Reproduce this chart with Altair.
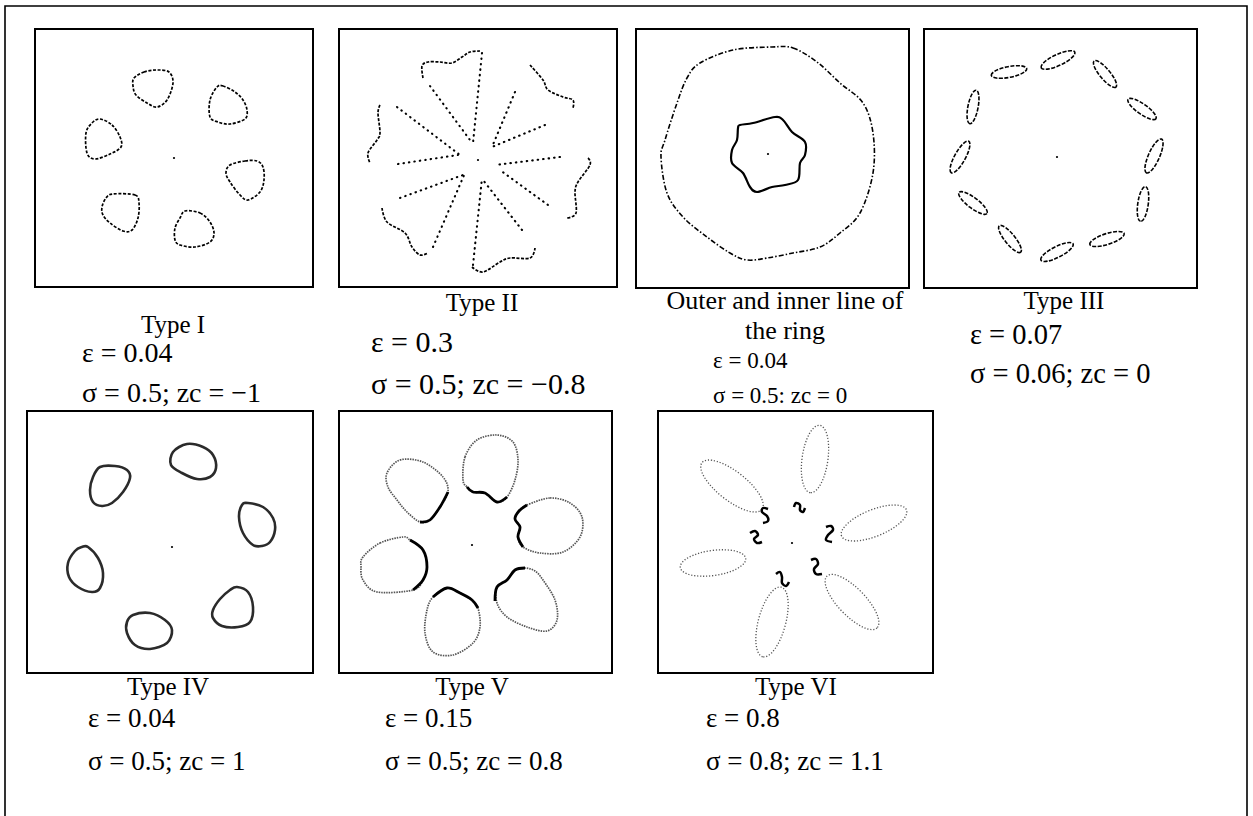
import altair as alt
import pandas as pd

W, H = 1253, 816
FONT = "Liberation Serif"

# ---------------------------------------------------------------- labels
TITLES = ["Type I", "Type II", "Outer and inner line of", "the ring",
          "Type III", "Type IV", "Type V", "Type VI"]
EPS = ["0.04", "0.3", "0.04", "0.07", "0.04", "0.15", "0.8"]
SIGMA = ["0.5", "0.5", "0.5", "0.06", "0.5", "0.5", "0.8"]
SEP = [";", ";", ":", ";", ";", ";", ";"]
ZC = ["\u22121", "\u22120.8", "0", "0", "1", "0.8", "1.1"]

# ---------------------------------------------------------------- panel layout (page pixels)
PANEL_BOX = [(35, 29, 313, 287), (339, 29, 617, 287), (636, 29, 909, 288),
             (924, 29, 1197, 288), (27, 411, 313, 673), (339, 411, 612, 673),
             (658, 411, 933, 673)]
PANEL_ORIGIN = [(174, 158), (478, 158), (772, 158), (1060, 158),
                (172, 547), (472, 545), (792, 543)]
TITLE_POS = [(173, 333), (482, 311), (785, 309), (785, 339), (1064, 309),
             (168, 695), (472, 695), (796, 695)]
TITLE_SIZE = [25, 25, 26, 26, 25, 25, 25, 25]
EQ_X = [82, 371, 713, 970, 88, 385, 706]
EQ_Y_EPS = [362, 352, 368, 344, 727, 727, 727]
EQ_Y_SIG = [402, 394, 403, 383, 770, 770, 770]
EQ_SIZE = [28, 30, 23, 28.5, 27, 27, 27]

# ---------------------------------------------------------------- pattern data (panel units, y down)
# Type I: six rounded loops
P1_LOOPS = {
    "a": [(-40, -80), (-30, -86), (-17, -88), (-5, -86), (-1, -75), (-7, -58),
          (-17, -51), (-27, -55), (-38, -63), (-41, -72)],
    "b": [(43, -71), (49, -72), (61, -66), (69, -58), (73, -48), (71, -39),
          (56, -34), (44, -36), (36, -41), (36, -58)],
    "c": [(56, 7), (71, 3), (83, 3), (89, 9), (90, 22), (86, 34), (74, 42),
          (66, 37), (56, 24), (52, 15)],
    "d": [(11, 53), (26, 55), (36, 64), (40, 75), (36, 84), (21, 89), (6, 87),
          (1, 82), (1, 70), (6, 60)],
    "e": [(-61, 36), (-39, 37), (-35, 45), (-36, 60), (-42, 72), (-51, 73),
          (-64, 65), (-71, 57), (-72, 49), (-68, 40)],
    "f": [(-74, -39), (-62, -33), (-54, -21), (-53, -11), (-64, -4), (-79, 1),
          (-87, -5), (-88, -25), (-82, -35)],
}

# Type II: wavy outer arcs and radial spokes
P2_ARCS = {
    "top": [(-55, -80), (-56, -92), (-50, -96), (-38, -96), (-26, -95),
            (-16, -101), (-8, -106), (2, -107)],
    "ur": [(52, -93), (65, -78), (70, -68), (85, -61), (95, -58), (95, -50)],
    "right": [(110, 0), (112, 7), (100, 24), (97, 34), (98, 55), (89, 60)],
    "bottom": [(-6, 109), (5, 114), (22, 104), (32, 100), (52, 100), (57, 90)],
    "ll": [(-96, 50), (-91, 64), (-73, 75), (-66, 89), (-58, 97), (-50, 95)],
    "left": [(-98, -53), (-100, -45), (-98, -25), (-101, -18), (-110, -5),
             (-108, 5)],
}
P2_SPOKES = {
    "s1": [(4, -105), (-5, -15)], "s2": [(-48, -72), (-8, -18)],
    "s3": [(37, -66), (14, -11)], "s4": [(67, -33), (14, -11)],
    "s5": [(82, -1), (17, 7)], "s6": [(70, 47), (22, 12)],
    "s7": [(-5, 107), (4, 20)], "s8": [(44, 72), (5, 22)],
    "s9": [(-45, 89), (-13, 15)], "s10": [(-78, 40), (-15, 17)],
    "s11": [(-81, -51), (-18, -3)], "s12": [(-80, 6), (-20, -3)],
}

# Ring: outer and inner boundary
P3_RING = {
    "outer": [(0, -111), (21, -110), (45, -96), (68, -75), (91, -55),
              (101, -25), (101, 15), (88, 55), (68, 75), (48, 89), (21, 95),
              (-5, 100), (-25, 102), (-42, 95), (-65, 79), (-89, 59),
              (-105, 35), (-111, -1), (-107, -18), (-95, -55), (-85, -80),
              (-72, -95), (-39, -108)],
}
P3_INNER = {
    "inner": [(-32, -33), (-19, -35), (3, -41), (11, -38), (20, -26),
              (33, -16), (33, -3), (28, 5), (26, 22), (13, 27), (0, 29),
              (-15, 34), (-22, 29), (-29, 15), (-40, 5), (-40, -8),
              (-35, -18), (-34, -30)],
}

# Type III: twelve small ellipses
P4_X = [-51, -2, 45, 82, 94, 83, 47, -3, -50, -87, -100, -87]
P4_Y = [-86, -98, -84, -49, -2, 46, 81, 94, 81, 45, -1, -51]
P4_ANGLE = [169, 155, 50, 35, 114, 98, 162, 153, 51, 37, 119, 101]
P4_LEN = [36, 37, 34, 34, 37, 35, 36, 36, 34, 35, 36, 34]

# Type IV: six ovals
P5_LOOPS = {
    "a": [(-72, -80), (-57, -81), (-45, -77), (-42, -69), (-49, -55),
          (-60, -44), (-70, -41), (-79, -45), (-82, -57), (-79, -70)],
    "b": [(1, -95), (15, -103), (31, -100), (41, -92), (44, -79), (38, -70),
          (25, -68), (10, -74), (-1, -82)],
    "c": [(76, -44), (91, -40), (101, -29), (103, -17), (98, -5), (90, -1),
          (81, -2), (71, -14), (67, -30), (70, -42)],
    "d": [(65, 40), (76, 45), (81, 60), (78, 75), (66, 80), (50, 79),
          (41, 71), (41, 63), (48, 52), (58, 43)],
    "e": [(-39, 68), (-22, 66), (-7, 73), (0, 83), (-5, 96), (-22, 102),
          (-37, 98), (-45, 86), (-45, 75)],
    "f": [(-84, 0), (-74, 11), (-69, 26), (-72, 41), (-80, 45), (-94, 40),
          (-103, 30), (-104, 16), (-97, 4), (-90, 0)],
}

# Type V: six petals, each with a wavy inner side
P6_OUTLINE = {
    "a": [(-85, -72), (-72, -85), (-49, -83), (-29, -68), (-24, -53),
          (-32, -38), (-42, -25), (-52, -23), (-65, -33), (-75, -45),
          (-84, -58)],
    "b": [(-9, -65), (-7, -88), (5, -105), (25, -110), (41, -103), (46, -85),
          (43, -65), (35, -48), (25, -43), (13, -52), (1, -53), (-5, -58)],
    "c": [(55, -40), (78, -47), (98, -42), (110, -28), (108, -8), (91, 7),
          (68, 8), (51, 2), (46, -8), (48, -18), (43, -26), (47, -34)],
    "d": [(25, 42), (35, 35), (43, 25), (53, 23), (63, 26), (71, 35),
          (83, 55), (85, 75), (75, 86), (55, 82), (35, 72), (25, 58)],
    "e": [(-39, 52), (-25, 43), (-12, 48), (0, 55), (6, 63), (8, 82),
          (1, 98), (-19, 110), (-39, 107), (-47, 88), (-45, 65)],
    "f": [(-109, 12), (-92, -2), (-69, -8), (-62, -5), (-49, 5), (-45, 22),
          (-49, 35), (-59, 45), (-95, 47), (-109, 35), (-111, 22)],
}
P6_WAVE = {
    "a": [(-24, -53), (-32, -38), (-42, -25), (-52, -23)],
    "b": [(35, -48), (25, -43), (13, -52), (1, -53), (-5, -58)],
    "c": [(55, -40), (47, -34), (43, -26), (48, -18), (46, -8), (51, 2)],
    "d": [(23, 56), (25, 42), (35, 35), (43, 25), (53, 23)],
    "e": [(-39, 52), (-25, 43), (-12, 48), (0, 55), (6, 63)],
    "f": [(-62, -5), (-49, 5), (-45, 22), (-49, 35), (-59, 45)],
}

# Type VI: six long petals and the inner squiggles
P7_X = [-60, 23, 82, 60, -20, -79]
P7_Y = [-57, -84, -20, 59, 79, 20]
P7_ANGLE = [38, 98, 158, 46, 105, 172]
P7_LEN = [76, 68, 70, 72, 72, 66]
P7_SQUIGGLES = {
    "s1": [(-24, -34), (-29, -35), (-30, -31), (-25, -27), (-24, -22), (-29, -20)],
    "s2": [(2, -36), (4, -40), (8, -38), (8, -33), (11, -31), (13, -35)],
    "s3": [(34, -16), (39, -17), (41, -13), (36, -8), (34, -3), (40, -1)],
    "s4": [(19, 17), (24, 16), (26, 21), (22, 26), (24, 31), (30, 31)],
    "s5": [(-16, 31), (-12, 29), (-10, 34), (-10, 40), (-6, 43), (-3, 39)],
    "s6": [(-42, -10), (-37, -12), (-34, -8), (-38, -4), (-35, 0), (-30, -1)],
}

# central particle of each pattern
CENTRE_DOT = [(0, 0), (0, 2), (-4, -4), (-3, -1), (0, 0), (0, 0), (0, 0)]


# ---------------------------------------------------------------- helpers
def ellipse_path(aspect):
    k = 0.5523
    a, ak = aspect, aspect * k
    return (f"M1,0 C1,{ak:.4f} {k},{a} 0,{a} C{-k},{a} -1,{ak:.4f} -1,0 "
            f"C-1,{-ak:.4f} {-k},{-a} 0,{-a} C{k},{-a} 1,{-ak:.4f} 1,0 Z")


def scales(k):
    left, top, right, bottom = PANEL_BOX[k]
    ox, oy = PANEL_ORIGIN[k]
    xs = alt.Scale(domain=[left - ox, right - ox], range=[left, right],
                   nice=False, zero=False)
    ys = alt.Scale(domain=[top - oy, bottom - oy], range=[top, bottom],
                   nice=False, zero=False)
    return xs, ys


def path_frame(paths):
    rows = []
    for g, pts in paths.items():
        for i, (x, y) in enumerate(pts):
            rows.append({"g": g, "i": i, "x": x, "y": y})
    return pd.DataFrame(rows)


def xy(k):
    xs, ys = scales(k)
    return dict(x=alt.X("x:Q", scale=xs, axis=None),
                y=alt.Y("y:Q", scale=ys, axis=None))


def curves(k, paths, interp, **style):
    return alt.Chart(path_frame(paths)).mark_line(
        interpolate=interp, **style
    ).encode(detail="g:N", order="i:Q", **xy(k))


def ellipses(k, cx, cy, ang, length, aspect, **style):
    df = pd.DataFrame({"x": cx, "y": cy, "ang": ang, "len": length})
    return alt.Chart(df).transform_calculate(
        area="datum.len * datum.len"
    ).mark_point(shape=ellipse_path(aspect), filled=False, opacity=1,
                 **style).encode(
        angle=alt.Angle("ang:Q", scale=None),
        size=alt.Size("area:Q", scale=None, legend=None),
        **xy(k))


def centre(k):
    x, y = CENTRE_DOT[k]
    df = pd.DataFrame({"x": [x], "y": [y]})
    return alt.Chart(df).mark_point(filled=True, size=5, color="black",
                                    opacity=1).encode(**xy(k))


layers = []

# page border (bottom edge falls outside the page)
border = pd.DataFrame({"x0": [5], "y0": [6], "x1": [1247], "y1": [840]})
layers.append(alt.Chart(border).mark_rect(
    fillOpacity=0, stroke="black", strokeWidth=1.6).encode(
    x=alt.X("x0:Q", scale=None), x2="x1:Q",
    y=alt.Y("y0:Q", scale=None), y2="y1:Q"))

# panel frames
frames = pd.DataFrame(PANEL_BOX, columns=["l", "t", "r", "b"])
layers.append(alt.Chart(frames).mark_rect(
    fillOpacity=0, stroke="black", strokeWidth=2).encode(
    x=alt.X("l:Q", scale=None), x2="r:Q",
    y=alt.Y("t:Q", scale=None), y2="b:Q"))

# Type I
layers.append(curves(0, P1_LOOPS, "cardinal-closed", stroke="black",
                     strokeWidth=1.7, strokeDash=[3, 1.6]))
# Type II
layers.append(curves(1, P2_ARCS, "cardinal", stroke="black",
                     strokeWidth=1.7, strokeDash=[3, 1.5]))
layers.append(curves(1, P2_SPOKES, "linear", stroke="black", strokeWidth=2.1,
                     strokeDash=[0.5, 5], strokeCap="round"))
# ring
layers.append(curves(2, P3_RING, "cardinal-closed", stroke="black",
                     strokeWidth=1.6, strokeDash=[5, 2, 1.5, 2]))
layers.append(curves(2, P3_INNER, "cardinal-closed", stroke="black",
                     strokeWidth=2.2))
# Type III
layers.append(ellipses(3, P4_X, P4_Y, P4_ANGLE, P4_LEN, 0.3, stroke="black",
                       strokeWidth=1.6, strokeDash=[4, 1.5]))
# Type IV
layers.append(curves(4, P5_LOOPS, "cardinal-closed", stroke="#2b2b2b",
                     strokeWidth=2.6))
# Type V
layers.append(curves(5, P6_OUTLINE, "cardinal-closed", stroke="#555555",
                     strokeWidth=1.7, strokeDash=[1.5, 1]))
layers.append(curves(5, P6_WAVE, "cardinal", stroke="black", strokeWidth=2.8))
# Type VI
layers.append(ellipses(6, P7_X, P7_Y, P7_ANGLE, P7_LEN, 0.38, stroke="#555555",
                       strokeWidth=1.3, strokeDash=[1.2, 1.8]))
layers.append(curves(6, P7_SQUIGGLES, "cardinal", stroke="black",
                     strokeWidth=2.5))

for k in range(7):
    layers.append(centre(k))

# titles
titles = pd.DataFrame({"t": TITLES,
                       "x": [p[0] for p in TITLE_POS],
                       "y": [p[1] for p in TITLE_POS],
                       "fs": TITLE_SIZE})
# parameter lines
eq_rows = []
for k in range(7):
    eq_rows.append({"t": f"\u03b5 = {EPS[k]}", "x": EQ_X[k],
                    "y": EQ_Y_EPS[k], "fs": EQ_SIZE[k]})
    eq_rows.append({"t": f"\u03c3 = {SIGMA[k]}{SEP[k]} zc = {ZC[k]}",
                    "x": EQ_X[k], "y": EQ_Y_SIG[k], "fs": EQ_SIZE[k]})
eqs = pd.DataFrame(eq_rows)


def text_layer(df, align):
    return alt.Chart(df).mark_text(
        align=align, baseline="alphabetic", font=FONT, color="black"
    ).encode(x=alt.X("x:Q", scale=None), y=alt.Y("y:Q", scale=None),
             text="t:N", size=alt.Size("fs:Q", scale=None, legend=None))


layers.append(text_layer(titles, "center"))
layers.append(text_layer(eqs, "left"))

chart = alt.layer(*layers).resolve_scale(
    x="independent", y="independent"
).properties(
    width=W, height=H, autosize=alt.AutoSizeParams(type="none"), padding=0,
    background="white"
).configure_view(stroke=None)

chart.save("out.html", embed_options={"renderer": "svg", "actions": False})
